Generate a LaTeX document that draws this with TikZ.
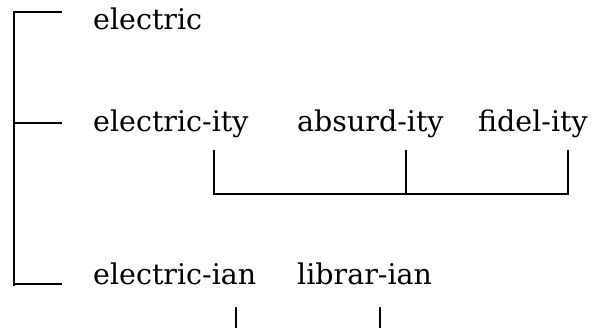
\documentclass[tikz,border=0pt]{standalone}
\usepackage{fontspec}
\setmainfont{DejaVu Serif}
\begin{document}
\begin{tikzpicture}[x=1pt,y=-1pt,
  word/.style={anchor=base west,inner sep=0pt,font=\fontsize{28.5}{30}\selectfont},
  conn/.style={line width=2pt,line cap=rect}]
\useasboundingbox (0,0) rectangle (593,328);
\node[word] (w1) at (93,29.5) {electric};
\node[word] (w2) at (93,132) {electric-ity};
\node[word] (w3) at (297,132) {absurd-ity};
\node[word] (w4) at (478,132) {fidel-ity};
\node[word] (w5) at (93,284.5) {electric-ian};
\node[word] (w6) at (297,284.5) {librar-ian};
% left bracket
\coordinate (lt) at (13.5,11.7);
\coordinate (lb) at (13.5,286);
\coordinate (h1) at (62,11.7);
\coordinate (h2a) at (13.5,123.3);
\coordinate (h2) at (62,123.3);
\coordinate (h3a) at (13.5,284);
\coordinate (h3) at (62,284);
\draw[line width=2pt] (h1) -- (lt) -- (lb);
\draw[line width=2pt] (h2a) -- (h2);
\draw[line width=2pt] (h3a) -- (h3);
% under bracket
\coordinate (a1) at (214,150);
\coordinate (a2) at (214,194);
\coordinate (b1) at (406,150);
\coordinate (b2) at (406,194);
\coordinate (c1) at (568,150);
\coordinate (c2) at (568,194);
\draw[line width=2pt] (a1) -- (a2) -- (c2) -- (c1);
\draw[line width=2pt] (b1) -- (b2);
% bottom ticks
\coordinate (d1) at (236,307);
\coordinate (d2) at (236,330);
\coordinate (e1) at (380,307);
\coordinate (e2) at (380,330);
\draw[line width=2pt] (d1) -- (d2);
\draw[line width=2pt] (e1) -- (e2);
\end{tikzpicture}
\end{document}
